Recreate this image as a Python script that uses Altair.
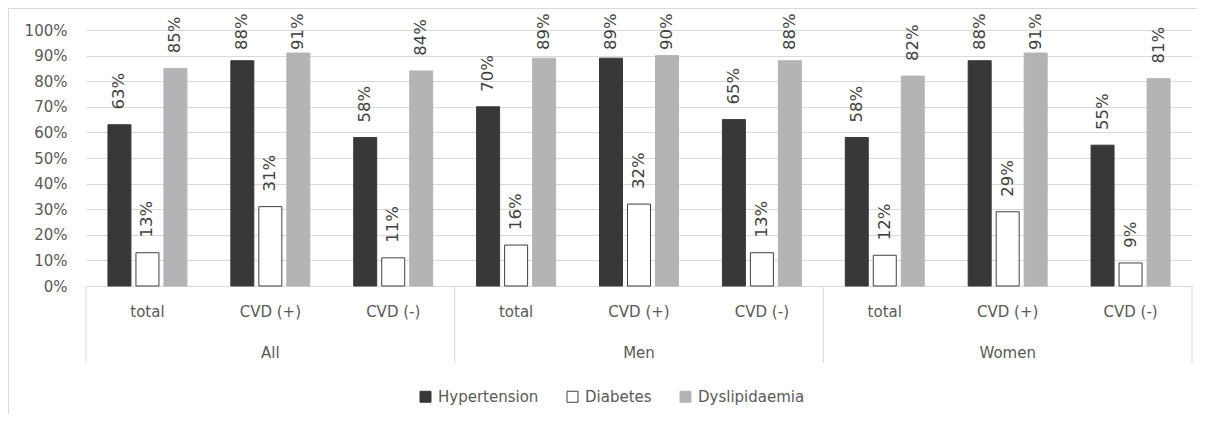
import altair as alt
import pandas as pd

# ---- data ----
outer_groups = ["All", "All", "All", "Men", "Men", "Men", "Women", "Women", "Women"]
sub_groups = ["total", "CVD (+)", "CVD (-)"] * 3
series_names = ["Hypertension", "Diabetes", "Dyslipidaemia"]
hypertension = [63, 88, 58, 70, 89, 65, 58, 88, 55]
diabetes = [13, 31, 11, 16, 32, 13, 12, 29, 9]
dyslipidaemia = [85, 91, 84, 89, 90, 88, 82, 91, 81]
y_ticks = [0, 10, 20, 30, 40, 50, 60, 70, 80, 90, 100]
outer_labels = ["All", "Men", "Women"]

keys = [f"{g}|{s}" for g, s in zip(outer_groups, sub_groups)]
rows = []
for name, vals in zip(series_names, [hypertension, diabetes, dyslipidaemia]):
    for k, v in zip(keys, vals):
        rows.append({"key": k, "series": name, "value": v, "label": f"{v}%"})
df = pd.DataFrame(rows)

outer_df = pd.DataFrame({"key": [f"{g}|CVD (+)" for g in outer_labels], "name": outer_labels})
left_sep = pd.DataFrame({"key": [f"{g}|total" for g in outer_labels]})
right_sep = pd.DataFrame({"key": [keys[-1]]})

W, H = 1106, 256
FONT = "DejaVu Sans"
TXT = "#595959"

x_scale = alt.Scale(domain=keys, paddingInner=0, paddingOuter=0)
xo_scale = alt.Scale(domain=series_names, paddingInner=0.179, paddingOuter=0.784)
y_scale = alt.Scale(domain=[0, 100], nice=False)

x_axis = alt.Axis(labelExpr="split(datum.value, '|')[1]", labelAngle=0, ticks=False,
                  domain=False, labelPadding=18, labelFont=FONT, labelFontSize=15,
                  labelColor=TXT, grid=False, title=None)
y_axis = alt.Axis(values=y_ticks, labelExpr="datum.value + '%'", ticks=False,
                  domain=False, gridColor="#d9d9d9", labelPadding=19,
                  labelOverlap=False, labelFont=FONT, labelFontSize=15,
                  labelColor=TXT, title=None)


def xk(**kw):
    return alt.X("key:N", scale=x_scale, sort=keys, axis=x_axis, title=None, **kw)


legend = alt.Legend(
    orient="none", legendX=332, legendY=359, direction="horizontal", title=None,
    symbolType="square", symbolSize=121, symbolStrokeWidth=1, labelFont=FONT,
    labelFontSize=15, labelColor=TXT, columnPadding=26, labelOffset=5,
)

fill_range = ["#383838", "#ffffff", "#b4b4b6"]
stroke_range = ["#383838", "#404040", "#b4b4b6"]

bars = alt.Chart(df).mark_bar(strokeWidth=1).encode(
    x=xk(),
    xOffset=alt.XOffset("series:N", scale=xo_scale, sort=series_names),
    y=alt.Y("value:Q", scale=y_scale, axis=y_axis, title=None),
    fill=alt.Fill("series:N", scale=alt.Scale(domain=series_names, range=fill_range),
                  sort=series_names, legend=legend),
    stroke=alt.Stroke("series:N", scale=alt.Scale(domain=series_names, range=stroke_range),
                      sort=series_names, legend=legend),
)

# label anchor: a fixed gap above the bar, kept inside the chart area at the top
labels = alt.Chart(df).transform_calculate(
    anchor="min(datum.value + 5.9, 92.2)"
).mark_text(
    angle=270, align="left", baseline="middle", font=FONT, fontSize=16.5,
    color="#404040",
).encode(
    x=xk(),
    xOffset=alt.XOffset("series:N", scale=xo_scale, sort=series_names),
    y=alt.Y("anchor:Q", scale=y_scale, axis=y_axis, title=None),
    text="label:N",
)

outer_text = alt.Chart(outer_df).mark_text(
    baseline="middle", font=FONT, fontSize=15, color=TXT
).encode(
    x=xk(),
    y=alt.value(H + 67),
    text="name:N",
)

sep_left = alt.Chart(left_sep).mark_rule(color="#d9d9d9", strokeWidth=1).encode(
    x=xk(bandPosition=0),
    y=alt.value(H),
    y2=alt.value(H + 77),
)
sep_right = alt.Chart(right_sep).mark_rule(color="#d9d9d9", strokeWidth=1).encode(
    x=xk(bandPosition=1),
    y=alt.value(H),
    y2=alt.value(H + 77),
)

frame = alt.Chart(pd.DataFrame({"a": [0]})).mark_rect(
    fillOpacity=0, stroke="#d9d9d9", strokeWidth=1
).encode(
    x=alt.value(-77.5), x2=alt.value(W + 40), y=alt.value(-21.5), y2=alt.value(H + 200)
)

chart = alt.layer(bars, frame, labels, outer_text, sep_left, sep_right).properties(
    width=W, height=H,
    padding={"left": 78, "top": 22, "right": 5, "bottom": 128},
    autosize=alt.AutoSizeParams(type="none"),
).configure_view(stroke=None).resolve_scale(x="shared")

chart.save("out.html", embed_options={"renderer": "svg", "actions": False})
